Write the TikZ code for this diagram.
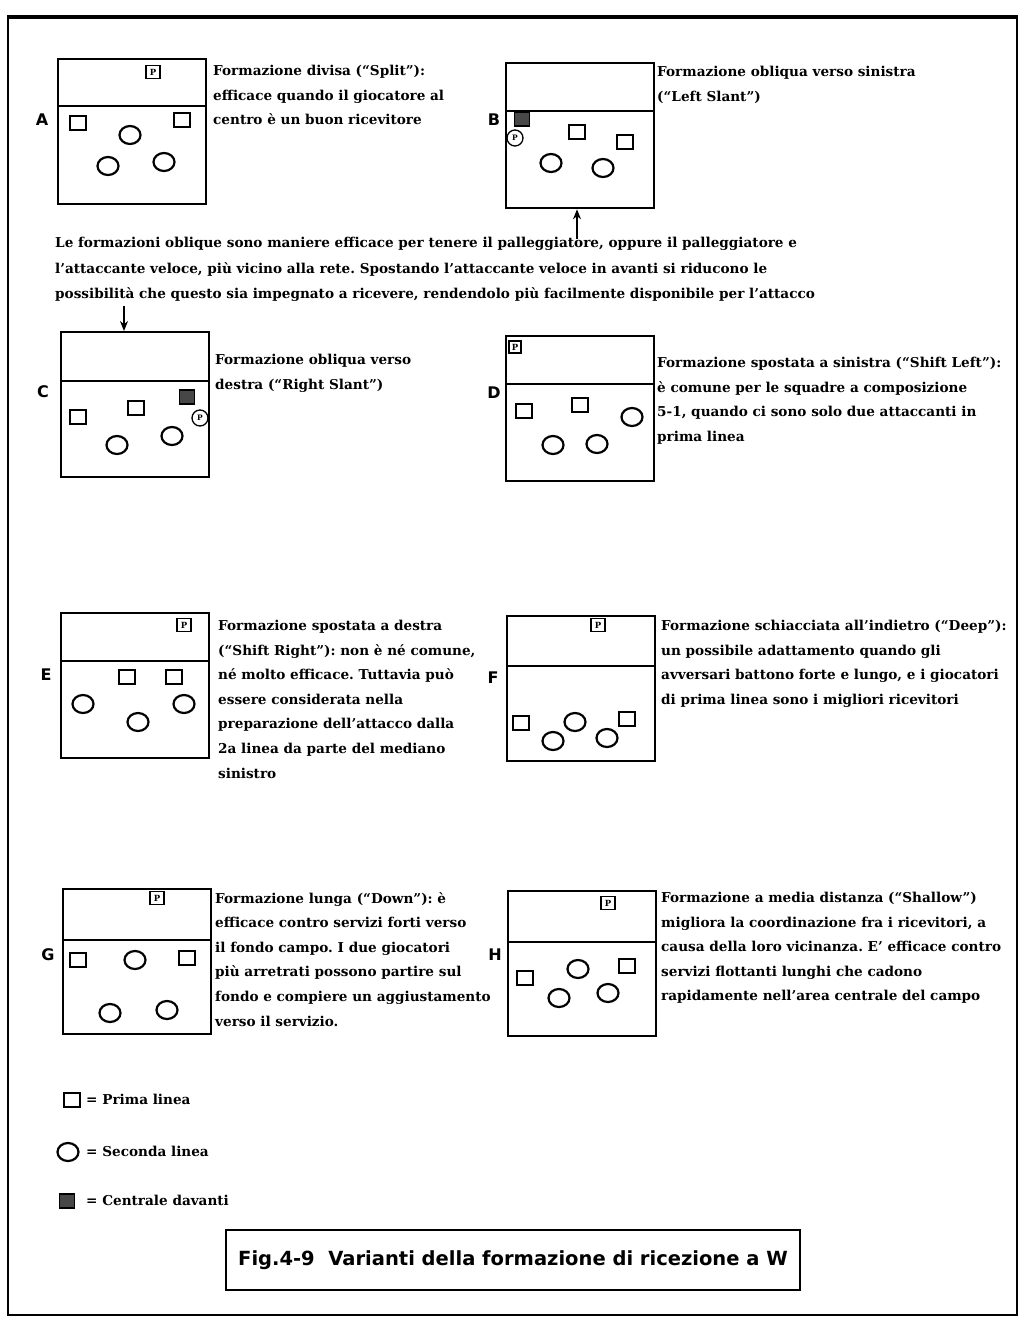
\documentclass[tikz,border=0pt]{standalone}
\usepackage{fontspec}
\setmainfont{DejaVu Serif}
\setsansfont{DejaVu Sans}
\usetikzlibrary{arrows.meta,shapes.geometric}
\frenchspacing
\begin{document}
\begin{tikzpicture}[x=1pt,y=-1pt,
  court/.style={draw,line width=2.3pt,rectangle,minimum width=148pt,minimum height=145pt,anchor=north west,inner sep=0},
  netline/.style={line width=2.3pt},
  sq/.style={draw,line width=2.2pt,rectangle,minimum width=16pt,minimum height=14pt,inner sep=0},
  ci/.style={draw,line width=2.2pt,ellipse,minimum width=21pt,minimum height=18pt,inner sep=0},
  psq/.style={draw,line width=1.5pt,rectangle,minimum width=14pt,minimum height=13pt,inner sep=0,font=\bfseries\fontsize{8.5}{8.5}\selectfont},
  pci/.style={draw,line width=1.3pt,circle,minimum size=16pt,inner sep=0,font=\bfseries\fontsize{7.5}{7.5}\selectfont},
  cf/.style={draw,line width=1.4pt,rectangle,fill=black!72,minimum width=15pt,minimum height=14pt,inner sep=0},
  lbl/.style={font=\sffamily\bfseries\fontsize{16}{16}\selectfont},
  desc/.style={anchor=north west,inner sep=0,align=left,font=\bfseries\fontsize{13.6}{24.6}\selectfont},
  leg/.style={anchor=west,inner sep=0,font=\bfseries\fontsize{13.6}{17}\selectfont},
  arr/.style={line width=1.5pt,-{Stealth[length=10pt,width=8pt]}}
]
\useasboundingbox (0,0) rectangle (1023,1326);
% outer frame
\draw[line width=2.8pt] (8,16) rectangle (1017,1315);
\draw[line width=1.6pt] (8,18) -- (1017,18);

% ---------- A ----------
\node[court] (cA) at (57,58) {};
\draw[netline] ([yshift=-48pt]cA.north west) -- ([yshift=-48pt]cA.north east);
\node[lbl] (lA) at (42,120) {A};
\node[psq] (pA) at (153,72) {P};
\node[sq] (sA1) at (78,123) {};
\node[sq] (sA2) at (182,120) {};
\node[ci] (oA1) at (130,135) {};
\node[ci] (oA2) at (108,166) {};
\node[ci] (oA3) at (164,162) {};
\node[desc] (tA) at (213,65) {Formazione divisa (``Split''):\\efficace quando il giocatore al\\centro è un buon ricevitore};

% ---------- B ----------
\node[court] (cB) at (505,62) {};
\draw[netline] ([yshift=-49pt]cB.north west) -- ([yshift=-49pt]cB.north east);
\node[lbl] (lB) at (494,120) {B};
\node[cf] (fB) at (522,119) {};
\node[pci] (pB) at (515,138) {P};
\node[sq] (sB1) at (577,132) {};
\node[sq] (sB2) at (625,142) {};
\node[ci] (oB1) at (551,163) {};
\node[ci] (oB2) at (603,168) {};
\node[desc] (tB) at (657,66) {Formazione obliqua verso sinistra\\(``Left Slant'')};

% ---------- paragraph ----------
\node[desc,font=\bfseries\fontsize{13.6}{25.5}\selectfont] (par) at (55,237) {Le formazioni oblique sono maniere efficace per tenere il palleggiatore, oppure il palleggiatore e\\l'attaccante veloce, più vicino alla rete. Spostando l'attaccante veloce in avanti si riducono le\\possibilità che questo sia impegnato a ricevere, rendendolo più facilmente disponibile per l'attacco};
\coordinate (arB) at (577,239);
\draw[arr] (arB) -- (arB |- cB.south);
\coordinate (arC) at (124,306);

% ---------- C ----------
\node[court] (cC) at (60,331) {};
\draw[netline] ([yshift=-50pt]cC.north west) -- ([yshift=-50pt]cC.north east);
\draw[arr] (arC) -- (arC |- cC.north);
\node[lbl] (lC) at (43,392) {C};
\node[cf] (fC) at (187,397) {};
\node[pci] (pC) at (200,418) {P};
\node[sq] (sC1) at (78,417) {};
\node[sq] (sC2) at (136,408) {};
\node[ci] (oC1) at (117,445) {};
\node[ci] (oC2) at (172,436) {};
\node[desc] (tC) at (215,354) {Formazione obliqua verso\\destra (``Right Slant'')};

% ---------- D ----------
\node[court] (cD) at (505,335) {};
\draw[netline] ([yshift=-49pt]cD.north west) -- ([yshift=-49pt]cD.north east);
\node[lbl] (lD) at (494,393) {D};
\node[psq,minimum width=12pt,minimum height=12pt] (pD) at (515,347) {P};
\node[sq] (sD1) at (524,411) {};
\node[sq] (sD2) at (580,405) {};
\node[ci] (oD1) at (632,417) {};
\node[ci] (oD2) at (553,445) {};
\node[ci] (oD3) at (597,444) {};
\node[desc] (tD) at (657,357) {Formazione spostata a sinistra (``Shift Left''):\\è comune per le squadre a composizione\\5-1, quando ci sono solo due attaccanti in\\prima linea};

% ---------- E ----------
\node[court] (cE) at (60,612) {};
\draw[netline] ([yshift=-49pt]cE.north west) -- ([yshift=-49pt]cE.north east);
\node[lbl] (lE) at (46,675) {E};
\node[psq] (pE) at (184,625) {P};
\node[sq] (sE1) at (127,677) {};
\node[sq] (sE2) at (174,677) {};
\node[ci] (oE1) at (83,704) {};
\node[ci] (oE2) at (184,704) {};
\node[ci] (oE3) at (138,722) {};
\node[desc] (tE) at (218,620) {Formazione spostata a destra\\(``Shift Right''): non è né comune,\\né molto efficace. Tuttavia può\\essere considerata nella\\preparazione dell'attacco dalla\\2a linea da parte del mediano\\sinistro};

% ---------- F ----------
\node[court] (cF) at (506,615) {};
\draw[netline] ([yshift=-51pt]cF.north west) -- ([yshift=-51pt]cF.north east);
\node[lbl] (lF) at (493,678) {F};
\node[psq] (pF) at (598,625) {P};
\node[sq] (sF1) at (521,723) {};
\node[sq] (sF2) at (627,719) {};
\node[ci] (oF1) at (575,722) {};
\node[ci] (oF2) at (553,741) {};
\node[ci] (oF3) at (607,738) {};
\node[desc] (tF) at (661,620) {Formazione schiacciata all'indietro (``Deep''):\\un possibile adattamento quando gli\\avversari battono forte e lungo, e i giocatori\\di prima linea sono i migliori ricevitori};

% ---------- G ----------
\node[court] (cG) at (62,888) {};
\draw[netline] ([yshift=-52pt]cG.north west) -- ([yshift=-52pt]cG.north east);
\node[lbl] (lG) at (48,955) {G};
\node[psq] (pG) at (157,898) {P};
\node[sq] (sG1) at (78,960) {};
\node[sq] (sG2) at (187,958) {};
\node[ci] (oG1) at (135,960) {};
\node[ci] (oG2) at (110,1013) {};
\node[ci] (oG3) at (167,1010) {};
\node[desc] (tG) at (215,892) {Formazione lunga (``Down''): è\\efficace contro servizi forti verso\\il fondo campo. I due giocatori\\più arretrati possono partire sul\\fondo e compiere un aggiustamento\\verso il servizio.};

% ---------- H ----------
\node[court] (cH) at (507,890) {};
\draw[netline] ([yshift=-52pt]cH.north west) -- ([yshift=-52pt]cH.north east);
\node[lbl] (lH) at (495,955) {H};
\node[psq] (pH) at (608,903) {P};
\node[sq] (sH1) at (525,978) {};
\node[sq] (sH2) at (627,966) {};
\node[ci] (oH1) at (578,969) {};
\node[ci] (oH2) at (559,998) {};
\node[ci] (oH3) at (608,993) {};
\node[desc] (tH) at (661,892) {Formazione a media distanza (``Shallow'')\\migliora la coordinazione fra i ricevitori, a\\causa della loro vicinanza. E' efficace contro\\servizi flottanti lunghi che cadono\\rapidamente nell'area centrale del campo};

% ---------- legend ----------
\node[sq] (kS) at (72,1100) {};
\node[leg] (kSt) at (86,1099) {= Prima linea};
\node[ci] (kC) at (68,1152) {};
\node[leg] (kCt) at (86,1151) {= Seconda linea};
\node[cf] (kF) at (67,1201) {};
\node[leg] (kFt) at (86,1200) {= Centrale davanti};

% ---------- caption ----------
\node[draw,line width=1.9pt,minimum width=574pt,minimum height=60pt,inner sep=0,font=\sffamily\bfseries\fontsize{19.5}{19.5}\selectfont] (cap) at (513,1260) {Fig.4-9\ \ Varianti della formazione di ricezione a W};
\end{tikzpicture}
\end{document}
